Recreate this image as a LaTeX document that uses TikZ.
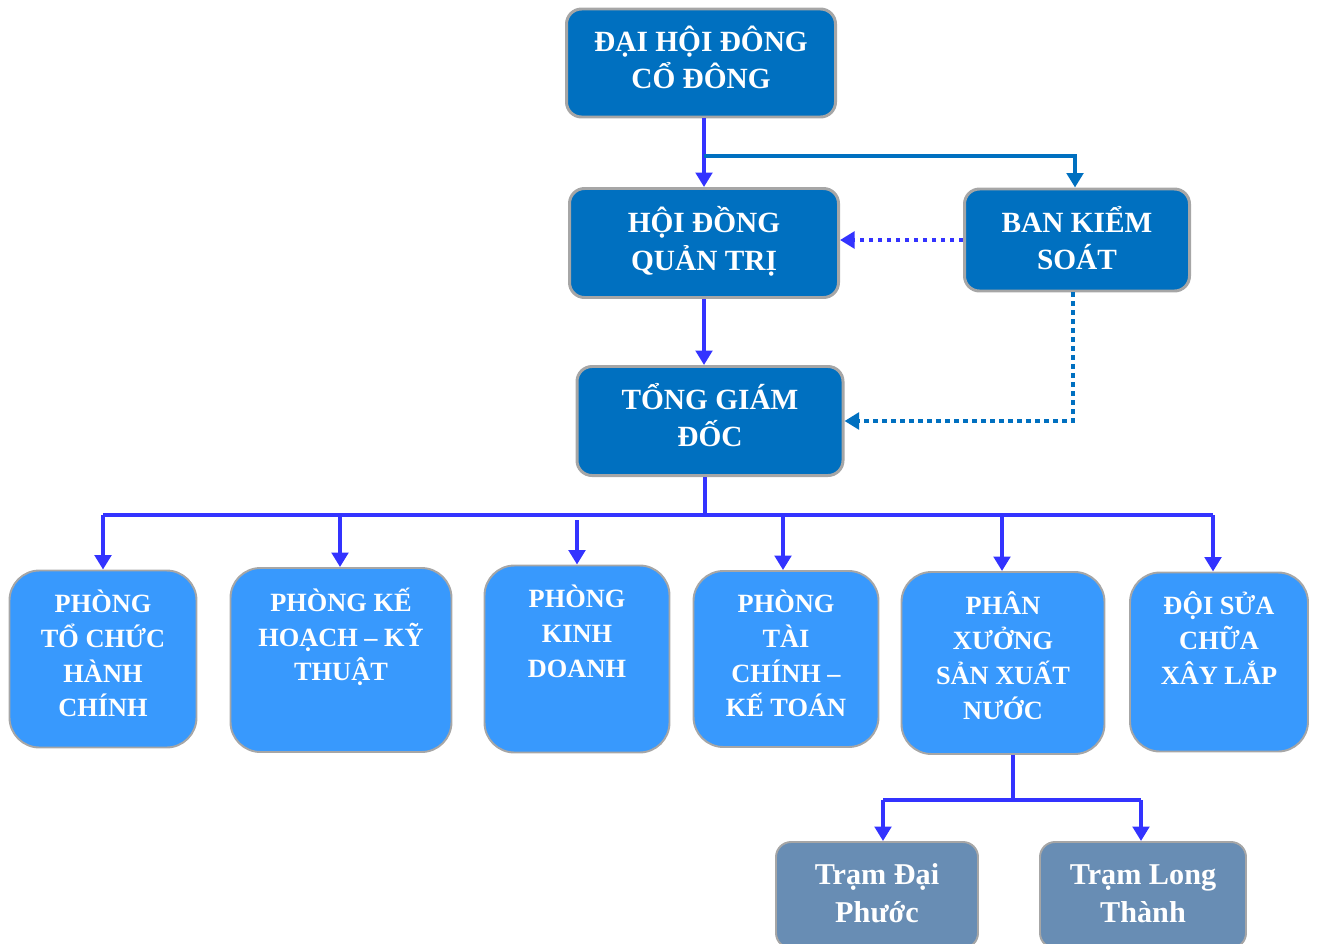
\documentclass[tikz,border=0pt]{standalone}
\usepackage{fontspec}
\setmainfont{Liberation Serif}
\usetikzlibrary{arrows.meta}
\definecolor{darkbox}{HTML}{0070C0}
\definecolor{lightbox}{HTML}{3899FD}
\definecolor{grey box}{HTML}{688DB4}
\definecolor{edgegrey}{HTML}{A6A6A6}
\definecolor{linkblue}{HTML}{3333FF}
\begin{document}
\begin{tikzpicture}[x=0.02cm,y=-0.02cm]
\tikzset{
  topbox/.style={draw=edgegrey,line width=1.7pt,fill=darkbox,rounded corners=0.3cm},
  deptbox/.style={draw=edgegrey,line width=1.1pt,fill=lightbox,rounded corners=0.6cm},
  stationbox/.style={draw=edgegrey,line width=1.1pt,fill=grey box,rounded corners=0.3cm},
  toptext/.style={text=white,align=center,font=\bfseries\fontsize{16.7}{21.5}\selectfont},
  depttext/.style={text=white,align=center,font=\bfseries\fontsize{15}{19.8}\selectfont},
  stationtext/.style={text=white,align=center,font=\bfseries\fontsize{17.2}{21.5}\selectfont},
  tip/.style={-{Triangle[width=0.33cm,length=0.29cm]}},
  blueline/.style={draw=linkblue,line width=2.8pt},
  darkline/.style={draw=darkbox,line width=2.3pt},
  dotline/.style={line width=2.8pt,dash pattern=on 0.09cm off 0.09cm}
}
\useasboundingbox (0,0) rectangle (1321,943);
% top of the chart
\node[topbox,minimum width=269*0.02cm,minimum height=108*0.02cm,
  label={[toptext,yshift=5.5*0.02cm]center:ĐẠI HỘI ĐÔNG\\CỔ ĐÔNG}] (dhcd) at (701,63) {};
\node[topbox,minimum width=269*0.02cm,minimum height=109*0.02cm,
  label={[toptext,yshift=2*0.02cm]center:HỘI ĐỒNG\\QUẢN TRỊ}] (hdqt) at (704,243) {};
\node[topbox,minimum width=225*0.02cm,minimum height=102*0.02cm,
  label={[toptext,yshift=2*0.02cm]center:BAN KIỂM\\SOÁT}] (bks) at (1077,240) {};
\node[topbox,minimum width=266*0.02cm,minimum height=109*0.02cm,
  label={[toptext,yshift=6*0.02cm]center:TỔNG GIÁM\\ĐỐC}] (tgd) at (710,421) {};
% departments
\node[deptbox,minimum width=187*0.02cm,minimum height=177*0.02cm,
  label={[depttext,yshift=5.5*0.02cm]center:PHÒNG\\TỔ CHỨC\\HÀNH\\CHÍNH}] (p1) at (103,659) {};
\node[deptbox,minimum width=221*0.02cm,minimum height=184*0.02cm,
  label={[depttext,yshift=23*0.02cm]center:PHÒNG KẾ\\HOẠCH – KỸ\\THUẬT}] (p2) at (341,660) {};
\node[deptbox,minimum width=185*0.02cm,minimum height=187*0.02cm,
  label={[depttext,yshift=27.5*0.02cm]center:PHÒNG\\KINH\\DOANH}] (p3) at (577,659) {};
\node[deptbox,minimum width=185*0.02cm,minimum height=176*0.02cm,
  label={[depttext,yshift=5.5*0.02cm]center:PHÒNG\\TÀI\\CHÍNH –\\KẾ TOÁN}] (p4) at (786,659) {};
\node[deptbox,minimum width=203*0.02cm,minimum height=182*0.02cm,
  label={[depttext,yshift=7.5*0.02cm]center:PHÂN\\XƯỞNG\\SẢN XUẤT\\NƯỚC}] (p5) at (1003,663) {};
\node[deptbox,minimum width=178*0.02cm,minimum height=179*0.02cm,
  label={[depttext,yshift=24*0.02cm]center:ĐỘI SỬA\\CHỮA\\XÂY LẮP}] (p6) at (1219,662) {};
% stations
\node[stationbox,minimum width=202*0.02cm,minimum height=106*0.02cm,
  label={[stationtext,yshift=1.5*0.02cm]center:Trạm Đại\\Phước}] (t1) at (877,895) {};
\node[stationbox,minimum width=206*0.02cm,minimum height=106*0.02cm,
  label={[stationtext,yshift=1.5*0.02cm]center:Trạm Long\\Thành}] (t2) at (1143,895) {};
% joints
\coordinate (j1) at (704,156);
\coordinate (bus) at (705,515);
\coordinate (sub) at (1013,800);
% links between the boxes
\draw[blueline,tip] (dhcd.south -| hdqt.north) -- (hdqt.north);
\draw[darkline,tip] (j1) -| ([xshift=-2*0.02cm]bks.north);
\draw[blueline,tip] (hdqt.south) -- (hdqt.south |- tgd.north);
\draw[dotline,draw=linkblue,tip] (bks.west) -- (bks.west -| hdqt.east);
\draw[dotline,draw=darkbox,tip] ([xshift=-4*0.02cm]bks.south) |- (tgd.east);
% departments
\draw[blueline] (tgd.south -| bus) -- (bus);
\draw[blueline] (p1.north |- bus) -- ([xshift=-6*0.02cm]p6.north |- bus);
\foreach \d/\dx in {p1/0,p2/-1,p4/-3,p5/-1,p6/-6} {
  \draw[blueline,tip] ([xshift=\dx*0.02cm]\d.north |- bus) -- ([xshift=\dx*0.02cm]\d.north);
}
\draw[blueline,tip] ([yshift=-5*0.02cm]p3.north |- bus) -- (p3.north);
% stations
\draw[blueline] (p5.south -| sub) -- (sub);
\draw[blueline] ([xshift=6*0.02cm]t1.north |- sub) -- ([xshift=-2*0.02cm]t2.north |- sub);
\draw[blueline,tip] ([xshift=6*0.02cm]t1.north |- sub) -- ([xshift=6*0.02cm]t1.north);
\draw[blueline,tip] ([xshift=-2*0.02cm]t2.north |- sub) -- ([xshift=-2*0.02cm]t2.north);
\end{tikzpicture}
\end{document}
